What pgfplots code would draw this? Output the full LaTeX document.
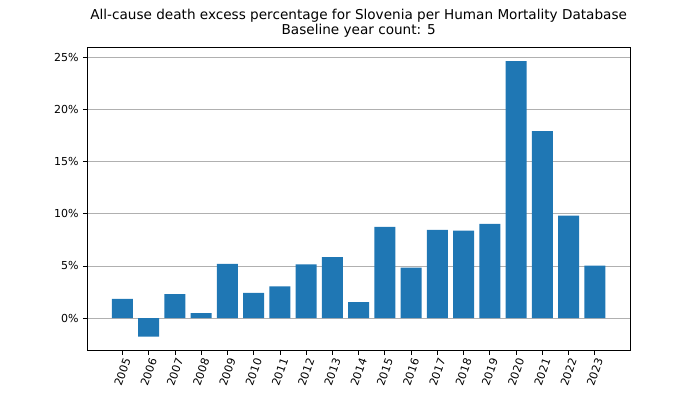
\documentclass[border=0pt]{standalone}
\usepackage{pgfplots}
\pgfplotsset{compat=1.18}
\usepackage{fontspec}
\setmainfont{DejaVu Sans}
\definecolor{mplblue}{HTML}{1F77B4}
\definecolor{gridgray}{HTML}{B0B0B0}
\begin{document}
\begin{tikzpicture}[x=1pt,y=1pt]
\path[use as bounding box] (0,0) rectangle (700,394);
\begin{axis}[
  at={(87.3pt,43.7pt)}, anchor=south west,
  scale only axis, width=542.7pt, height=303pt,
  xmin=-1.34, xmax=19.34, ymin=-3.09, ymax=25.98,
  ybar, bar width=0.8,
  xtick={0,1,2,3,4,5,6,7,8,9,10,11,12,13,14,15,16,17,18},
  xticklabels={2005,2006,2007,2008,2009,2010,2011,2012,2013,2014,2015,2016,2017,2018,2019,2020,2021,2022,2023},
  ytick={0,5,10,15,20,25},
  yticklabel={\pgfmathprintnumber{\tick}\%},
  /pgf/number format/assume math mode=true,
  xtick pos=lower, ytick pos=left,
  tick align=outside, major tick length=4.5pt,
  tick style={black, line width=0.8pt},
  axis line style={black, line width=0.8pt},
  ymajorgrids, grid style={gridgray, line width=0.8pt},
  ticklabel style={font=\fontsize{11}{12}\selectfont},
  xticklabel style={inner sep=0pt, xshift=4.8pt, yshift=-4pt, rotate=70, anchor=east},
  yticklabel style={inner sep=0pt, xshift=-4pt},
  title={All-cause death excess percentage for Slovenia per Human Mortality Database\\Baseline year count: 5},
  title style={font=\fontsize{13.6}{14.6}\selectfont, align=center, inner sep=0pt, anchor=south, at={(0.5,1)}, yshift=3.8pt},
]
\addplot[fill=mplblue, draw=none] coordinates {
(0,1.85) (1,-1.77) (2,2.31) (3,0.48) (4,5.19) (5,2.41) (6,3.05) (7,5.16) (8,5.86) (9,1.53)
(10,8.74) (11,4.84) (12,8.46) (13,8.39) (14,9.03) (15,24.66) (16,17.93) (17,9.83) (18,5.03)
};
\end{axis}
\end{tikzpicture}
\end{document}
